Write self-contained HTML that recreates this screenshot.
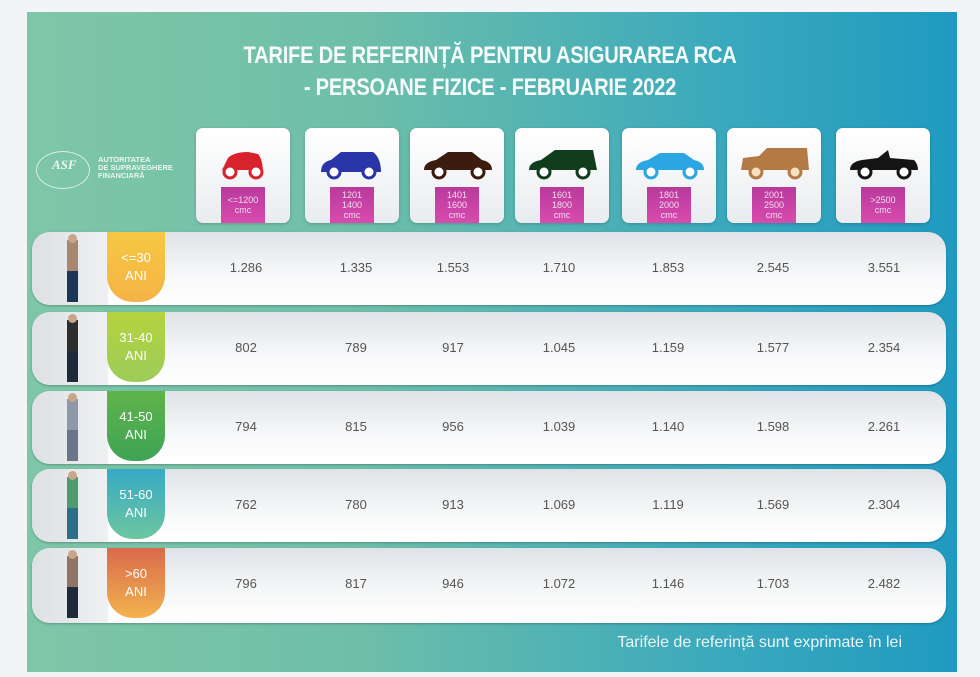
<!DOCTYPE html>
<html><head><meta charset="utf-8"><style>
body{margin:0;width:980px;height:677px;background:#f2f4f7;position:relative;overflow:hidden;font-family:"Liberation Sans",sans-serif}
.panel{position:absolute;left:27px;top:12px;width:930px;height:660px;background:linear-gradient(90deg,#7fc6a8 0%,#6fbfa8 35%,#3aa9bd 75%,#1f9ac0 100%)}
.title{position:absolute;left:160px;width:660px;text-align:center;color:#f4fbfa;font-size:24px;font-weight:bold;letter-spacing:-0.3px;transform:scaleX(0.84)}
.card{position:absolute;top:128px;width:94px;height:95px;background:linear-gradient(#fff,#e9ecef);border-radius:7px;box-shadow:0 1px 3px rgba(0,0,0,.2)}
.card svg{position:absolute;left:12px;top:20px}
.tag{position:absolute;left:25px;top:59px;width:44px;height:36px;background:linear-gradient(#b83a9c,#d94bae);color:#f6dcef;font-size:9px;line-height:10px;text-align:center;display:flex;align-items:center;justify-content:center}
.row{position:absolute;left:32px;width:914px;height:73px;border-radius:18px;background:linear-gradient(#dfe3e7,#f7f8f9 60%,#fff);box-shadow:0 1px 2px rgba(0,0,0,.25)}
.row .lt{position:absolute;left:0;top:0;width:76px;height:73px;border-radius:18px 0 0 18px;background:linear-gradient(90deg,#dde1e4,#eef0f2)}
.row .tab{position:absolute;left:75px;top:0;width:58px;height:70px;border-radius:0 0 26px 26px;color:#fff;font-size:13px;text-align:center;display:flex;align-items:center;justify-content:center;line-height:18px}
.row .v{position:absolute;top:28px;font-size:13px;color:#555;transform:translateX(-50%)}
.person{position:absolute;left:35px;top:8px;width:11px;height:62px}
.person:before{content:"";position:absolute;left:1px;top:-6px;width:9px;height:9px;border-radius:50%;background:#c9a58a}
.foot{position:absolute;right:78px;top:634px;color:#eaf6f8;font-size:16px}
.logo{position:absolute;left:36px;top:151px;color:#eaf6f1;font-size:7.5px;font-weight:bold;line-height:8px}
</style></head><body>
<div class="panel"></div>
<div class="title" style="top:42px">TARIFE DE REFERINȚĂ PENTRU ASIGURAREA RCA</div>
<div class="title" style="top:74px">- PERSOANE FIZICE - FEBRUARIE 2022</div>
<div class="logo"><div style="position:absolute;left:0;top:0;width:52px;height:36px;border:1px solid #d8f0e6;border-radius:50%"></div><div style="position:absolute;left:16px;top:10px;font-size:13px;font-style:italic;font-family:'Liberation Serif',serif">ASF</div><div style="position:absolute;left:62px;top:5px;white-space:nowrap">AUTORITATEA<br>DE SUPRAVEGHERE<br>FINANCIARĂ</div></div>

<div class="card" style="left:196px"><svg width="70" height="34"><path d="M14 22 L20 10 Q26 4 40 4 L50 6 Q54 10 55 22 Z" fill="#d8232c"/><circle cx="22" cy="24" r="6" fill="#fff" stroke="#d8232c" stroke-width="3"/><circle cx="48" cy="24" r="6" fill="#fff" stroke="#d8232c" stroke-width="3"/></svg><div class="tag">&lt;=1200<br>cmc</div></div>
<div class="card" style="left:305px"><svg width="70" height="34"><path d="M4 24 Q4 14 14 12 L24 4 L56 4 Q64 10 64 24 Z" fill="#2a35a8"/><circle cx="17" cy="24" r="6" fill="#fff" stroke="#2a35a8" stroke-width="3"/><circle cx="52" cy="24" r="6" fill="#fff" stroke="#2a35a8" stroke-width="3"/></svg><div class="tag">1201<br>1400<br>cmc</div></div>
<div class="card" style="left:410px"><svg width="70" height="34"><path d="M2 22 Q2 14 14 12 L26 4 L50 4 L60 12 Q70 14 70 22 Z" fill="#3d1c10"/><circle cx="17" cy="24" r="6" fill="#fff" stroke="#3d1c10" stroke-width="3"/><circle cx="56" cy="24" r="6" fill="#fff" stroke="#3d1c10" stroke-width="3"/></svg><div class="tag">1401<br>1600<br>cmc</div></div>
<div class="card" style="left:515px"><svg width="70" height="34"><path d="M2 22 Q2 14 14 12 L28 2 L66 2 L70 22 Z" fill="#0f3d1e"/><circle cx="17" cy="24" r="6" fill="#fff" stroke="#0f3d1e" stroke-width="3"/><circle cx="56" cy="24" r="6" fill="#fff" stroke="#0f3d1e" stroke-width="3"/></svg><div class="tag">1601<br>1800<br>cmc</div></div>
<div class="card" style="left:622px"><svg width="70" height="34"><path d="M2 22 Q2 14 14 12 L26 5 L50 5 L60 12 Q70 14 70 22 Z" fill="#2aa6e2"/><circle cx="17" cy="24" r="6" fill="#fff" stroke="#2aa6e2" stroke-width="3"/><circle cx="56" cy="24" r="6" fill="#fff" stroke="#2aa6e2" stroke-width="3"/></svg><div class="tag">1801<br>2000<br>cmc</div></div>
<div class="card" style="left:727px"><svg width="70" height="34"><path d="M2 22 L4 10 L20 8 L28 0 L68 0 L70 22 Z" fill="#b47a45"/><circle cx="17" cy="24" r="6" fill="#f5e0c0" stroke="#b47a45" stroke-width="3"/><circle cx="56" cy="24" r="6" fill="#f5e0c0" stroke="#b47a45" stroke-width="3"/></svg><div class="tag">2001<br>2500<br>cmc</div></div>
<div class="card" style="left:836px"><svg width="70" height="34"><path d="M2 22 Q2 14 14 12 L30 10 L40 2 L42 10 L66 12 Q70 16 70 22 Z" fill="#151515"/><circle cx="17" cy="24" r="6" fill="#fff" stroke="#151515" stroke-width="3"/><circle cx="56" cy="24" r="6" fill="#fff" stroke="#151515" stroke-width="3"/></svg><div class="tag">&gt;2500<br>cmc</div></div>

<div class="row" style="top:232px"><div class="lt"></div><div class="person" style="background:linear-gradient(#a8876f 0 50%,#1d3557 50%)"></div><div class="tab" style="background:linear-gradient(#f6c842,#f5b347)">&lt;=30<br>ANI</div>
<span class="v" style="left:214px">1.286</span><span class="v" style="left:324px">1.335</span><span class="v" style="left:421px">1.553</span><span class="v" style="left:527px">1.710</span><span class="v" style="left:636px">1.853</span><span class="v" style="left:741px">2.545</span><span class="v" style="left:852px">3.551</span></div>
<div class="row" style="top:312px"><div class="lt"></div><div class="person" style="background:linear-gradient(#2d2d2d 0 50%,#1e2c3a 50%)"></div><div class="tab" style="background:linear-gradient(#b5d33d,#9dcc59)">31-40<br>ANI</div>
<span class="v" style="left:214px">802</span><span class="v" style="left:324px">789</span><span class="v" style="left:421px">917</span><span class="v" style="left:527px">1.045</span><span class="v" style="left:636px">1.159</span><span class="v" style="left:741px">1.577</span><span class="v" style="left:852px">2.354</span></div>
<div class="row" style="top:391px"><div class="lt"></div><div class="person" style="background:linear-gradient(#8f98a8 0 50%,#6b7589 50%)"></div><div class="tab" style="background:linear-gradient(#5fb44a,#3fa356)">41-50<br>ANI</div>
<span class="v" style="left:214px">794</span><span class="v" style="left:324px">815</span><span class="v" style="left:421px">956</span><span class="v" style="left:527px">1.039</span><span class="v" style="left:636px">1.140</span><span class="v" style="left:741px">1.598</span><span class="v" style="left:852px">2.261</span></div>
<div class="row" style="top:469px"><div class="lt"></div><div class="person" style="background:linear-gradient(#4f9a6e 0 50%,#2a6f87 50%)"></div><div class="tab" style="background:linear-gradient(#37a9c4,#6cc7a0)">51-60<br>ANI</div>
<span class="v" style="left:214px">762</span><span class="v" style="left:324px">780</span><span class="v" style="left:421px">913</span><span class="v" style="left:527px">1.069</span><span class="v" style="left:636px">1.119</span><span class="v" style="left:741px">1.569</span><span class="v" style="left:852px">2.304</span></div>
<div class="row" style="top:548px;height:75px"><div class="lt" style="height:75px"></div><div class="person" style="background:linear-gradient(#8f7563 0 50%,#1e2c3a 50%)"></div><div class="tab" style="background:linear-gradient(#d96a4c,#f2b34e)">&gt;60<br>ANI</div>
<span class="v" style="left:214px">796</span><span class="v" style="left:324px">817</span><span class="v" style="left:421px">946</span><span class="v" style="left:527px">1.072</span><span class="v" style="left:636px">1.146</span><span class="v" style="left:741px">1.703</span><span class="v" style="left:852px">2.482</span></div>
<div class="foot">Tarifele de referință sunt exprimate în lei</div>
</body></html>
